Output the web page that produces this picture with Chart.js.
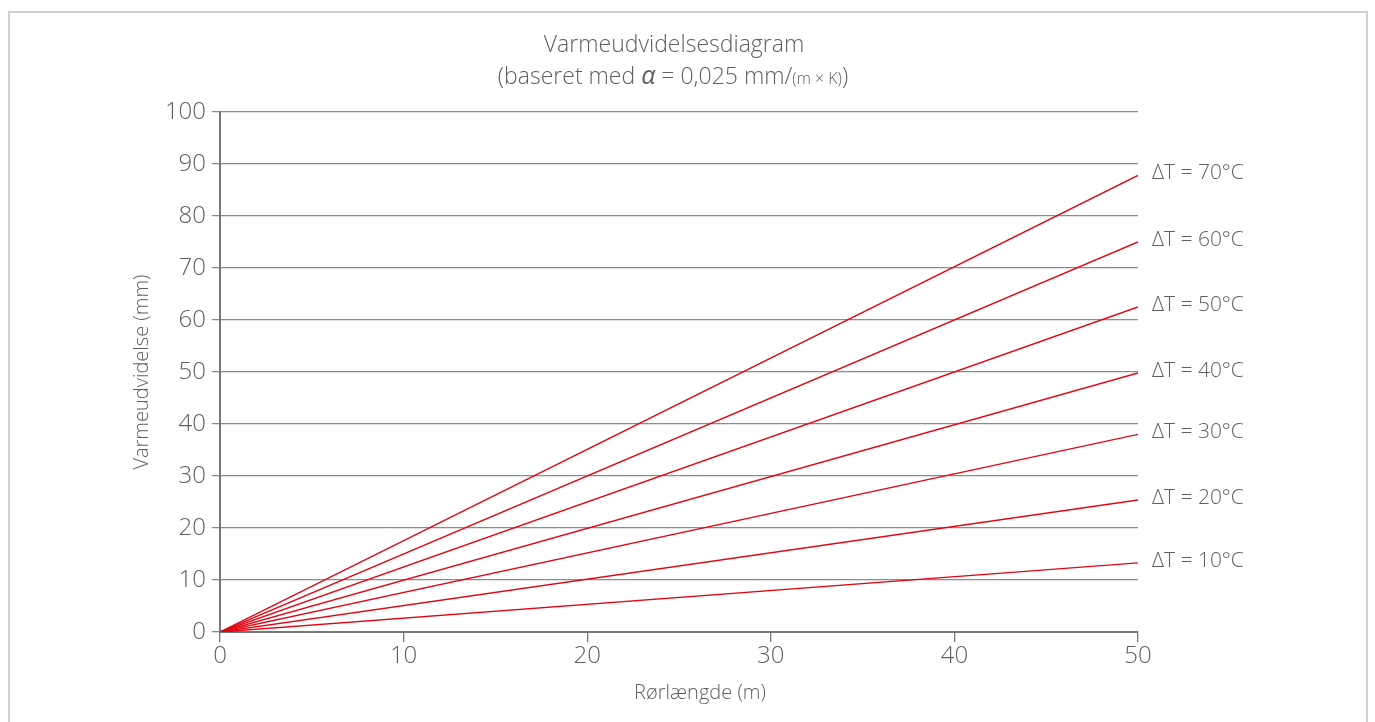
<!DOCTYPE html>
<html>
<head>
<meta charset="utf-8">
<script src="https://cdn.jsdelivr.net/npm/chart.js@4.4.1/dist/chart.umd.min.js"></script>
<style>
    html, body { margin: 0; padding: 0; background: #fff; }
    #wrap { position: relative; width: 1375px; height: 722px; }
    #frame {
        position: absolute; left: 8px; top: 11px; width: 1360px; height: 720px;
        border: 2px solid #d0d0d0; border-bottom: none; box-sizing: border-box;
    }
    canvas { position: absolute; left: 0; top: 0; }
</style>
</head>
<body>
<div id="wrap">
    <div id="frame"></div>
    <canvas id="chart" width="1375" height="722"></canvas>
</div>
<script>
const FONT = "'Open Sans', 'Noto Sans', sans-serif";
const TEXT = "#5f5f5f";
const RED = "#e30613";

// pipe length (m)
const lengths = [0, 50];
// temperature differences
const deltaT = [70, 60, 50, 40, 30, 20, 10];
// expansion (mm) at 0 m and 50 m
const exp70 = [0, 87.8];
const exp60 = [0, 75.0];
const exp50 = [0, 62.5];
const exp40 = [0, 49.8];
const exp30 = [0, 38.0];
const exp20 = [0, 25.4];
const exp10 = [0, 13.3];
const seriesValues = [exp70, exp60, exp50, exp40, exp30, exp20, exp10];

const xTicks = [0, 10, 20, 30, 40, 50];
const yTicks = [0, 10, 20, 30, 40, 50, 60, 70, 80, 90, 100];

const datasets = deltaT.map((t, i) => ({
    label: "ΔT = " + t + "°C",
    data: lengths.map((x, j) => ({ x: x, y: seriesValues[i][j] })),
    borderColor: RED,
    borderWidth: 1.4,
    pointRadius: 0,
    fill: false,
    tension: 0
}));

// titles, axis titles and end labels
const textPlugin = {
    id: "texts",
    afterDraw(c) {
        const ctx = c.ctx;
        const a = c.chartArea;
        ctx.save();
        ctx.fillStyle = TEXT;
        ctx.textBaseline = "middle";

        // main title
        ctx.font = "300 23px " + FONT;
        ctx.textAlign = "center";
        ctx.fillText("Varmeudvidelsesdiagram", 674, 45);

        // subtitle with italic alpha and small (m x K)
        const parts = [
            { t: "(baseret med ", f: "300 23px " + FONT },
            { t: "α", f: "italic 400 25px " + FONT },
            { t: " = 0,025 mm/", f: "300 23px " + FONT },
            { t: "(m × K)", f: "300 16px " + FONT },
            { t: ")", f: "300 23px " + FONT }
        ];
        let total = 0;
        parts.forEach(p => { ctx.font = p.f; p.w = ctx.measureText(p.t).width; total += p.w; });
        let x = 673 - total / 2;
        ctx.textAlign = "left";
        parts.forEach(p => {
            ctx.font = p.f;
            ctx.fillText(p.t, x, p.t === "(m × K)" ? 79 : 77);
            x += p.w;
        });

        // x axis title
        ctx.font = "300 20px " + FONT;
        ctx.textAlign = "center";
        ctx.fillText("Rørlængde (m)", 700, 693);

        // y axis title
        ctx.save();
        ctx.translate(142, (a.top + a.bottom) / 2);
        ctx.rotate(-Math.PI / 2);
        ctx.fillText("Varmeudvidelse (mm)", 0, 0);
        ctx.restore();

        // labels at line ends
        ctx.font = "300 21px " + FONT;
        ctx.textAlign = "left";
        c.data.datasets.forEach(ds => {
            const last = ds.data[ds.data.length - 1];
            const yy = c.scales.y.getPixelForValue(last.y);
            ctx.fillText(ds.label, a.right + 14, yy - 2);
        });
        ctx.restore();
    }
};

new Chart(document.getElementById("chart"), {
    type: "line",
    data: { datasets: datasets },
    options: {
        responsive: false,
        animation: false,
        layout: { padding: { top: 112, right: 237, left: 0, bottom: 0 } },
        plugins: {
            legend: { display: false },
            title: { display: false },
            tooltip: { enabled: false }
        },
        scales: {
            x: {
                type: "linear",
                min: 0,
                max: 50,
                afterBuildTicks: s => { s.ticks = xTicks.map(v => ({ value: v })); },
                afterFit: s => { s.height = 90; },
                grid: {
                    drawOnChartArea: false,
                    drawTicks: true,
                    tickLength: 10,
                    color: "#777",
                    lineWidth: 1.3
                },
                border: { display: true, color: "#777", width: 2 },
                ticks: {
                    color: TEXT,
                    font: { family: FONT, size: 24, weight: 300 },
                    padding: 0,
                    maxRotation: 0
                }
            },
            y: {
                min: 0,
                max: 100,
                afterBuildTicks: s => { s.ticks = yTicks.map(v => ({ value: v })); },
                afterFit: s => { s.width = 220; },
                grid: {
                    color: "#8c8c8c",
                    lineWidth: 1.3,
                    drawTicks: true,
                    tickLength: 8
                },
                border: { display: true, color: "#777", width: 2 },
                ticks: {
                    color: TEXT,
                    font: { family: FONT, size: 24, weight: 300 },
                    padding: 6
                }
            }
        }
    },
    plugins: [textPlugin]
});
</script>
</body>
</html>
